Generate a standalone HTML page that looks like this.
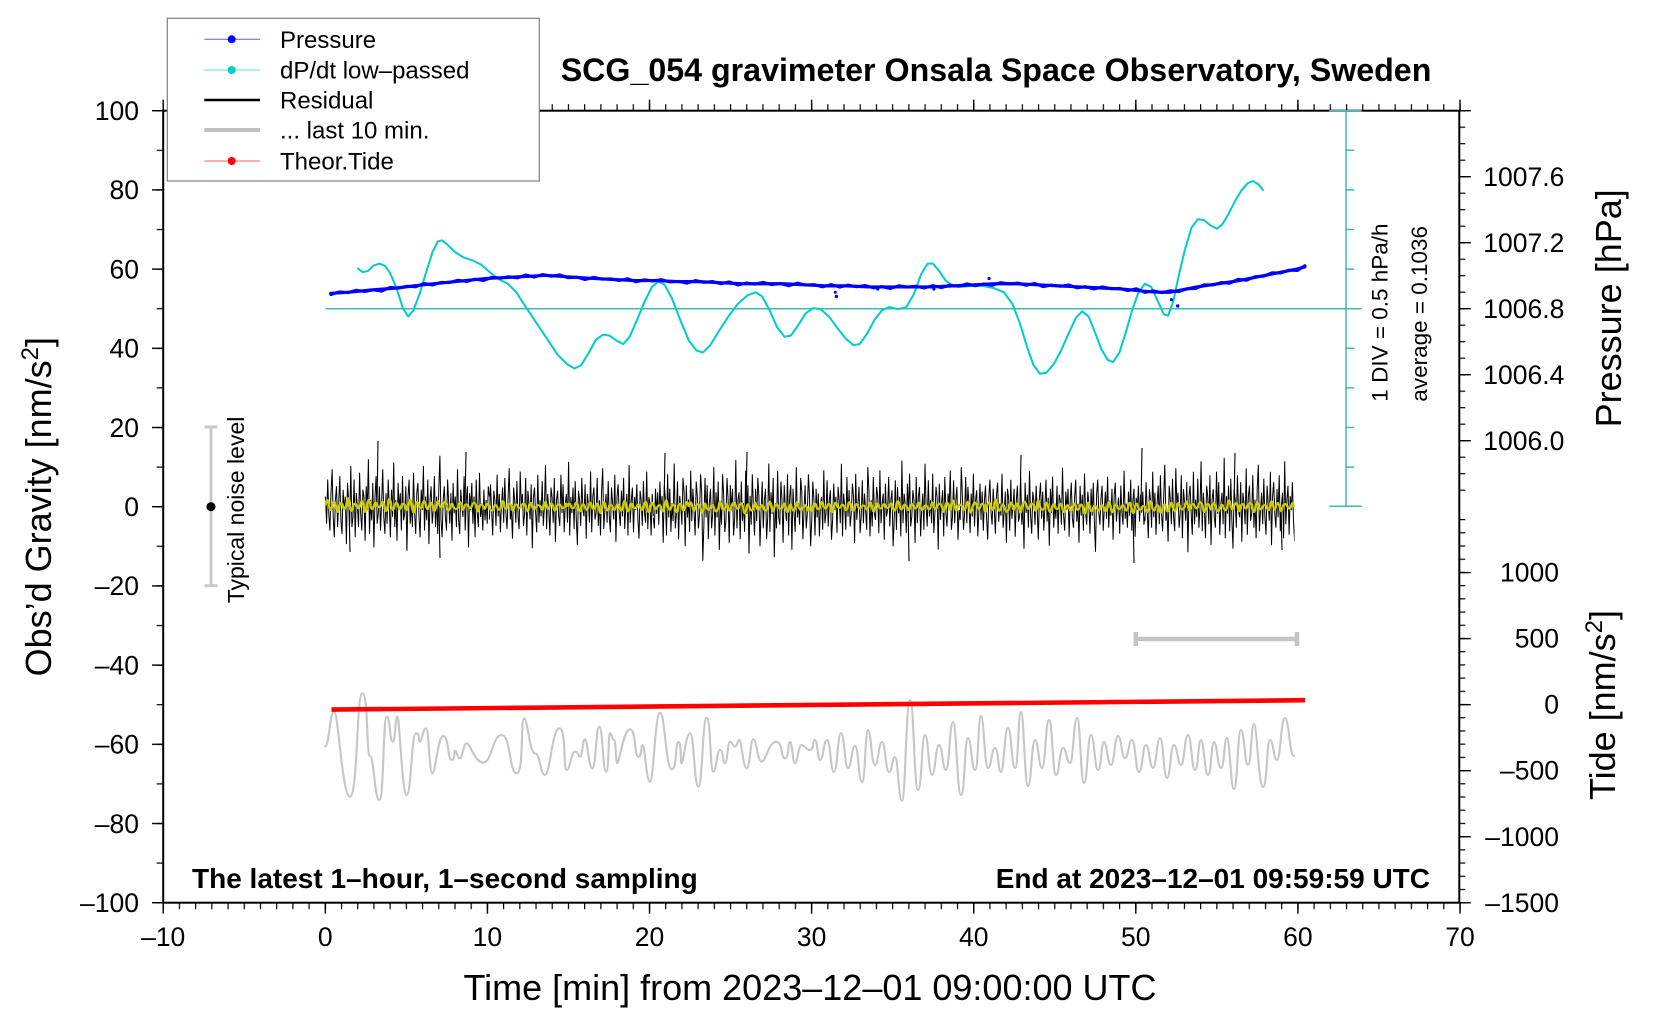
<!DOCTYPE html>
<html><head><meta charset="utf-8"><title>SCG_054 gravimeter</title>
<style>
html,body{margin:0;padding:0;background:#fff}
svg{display:block}
text{font-family:"Liberation Sans",Arial,Helvetica,sans-serif;fill:#000}
</style></head>
<body>
<svg xmlns="http://www.w3.org/2000/svg" xmlns:xlink="http://www.w3.org/1999/xlink" width="1660" height="1020" viewBox="0 0 1660 1020">
<defs>
<pattern id="vmin" patternUnits="userSpaceOnUse" x="162.6" y="0" width="16.21" height="40"><rect x="0" y="0" width="1.2" height="40" fill="#000"/></pattern>
<pattern id="vmaj" patternUnits="userSpaceOnUse" x="162.5" y="0" width="162.1" height="40"><rect x="0" y="0" width="1.4" height="40" fill="#000"/></pattern>
<pattern id="hlmin" patternUnits="userSpaceOnUse" x="0" y="110.1" width="40" height="39.6"><rect x="0" y="0" width="40" height="1.2" fill="#000"/></pattern>
<pattern id="hlmaj" patternUnits="userSpaceOnUse" x="0" y="110.0" width="40" height="79.2"><rect x="0" y="0" width="40" height="1.4" fill="#000"/></pattern>
<pattern id="hpmin" patternUnits="userSpaceOnUse" x="0" y="110.1" width="40" height="16.5"><rect x="0" y="0" width="40" height="1.2" fill="#000"/></pattern>
<pattern id="hpmaj" patternUnits="userSpaceOnUse" x="0" y="110.0" width="40" height="66"><rect x="0" y="0" width="40" height="1.4" fill="#000"/></pattern>
<pattern id="htmin" patternUnits="userSpaceOnUse" x="0" y="518.99" width="40" height="13.21"><rect x="0" y="0" width="40" height="1.2" fill="#000"/></pattern>
<pattern id="htmaj" patternUnits="userSpaceOnUse" x="0" y="571.85" width="40" height="66.05"><rect x="0" y="0" width="40" height="1.4" fill="#000"/></pattern>
<clipPath id="rclip"><rect x="320" y="380" width="974.5" height="260"/></clipPath>
<path id="ra" fill="none" stroke="#000" stroke-width="1" vector-effect="non-scaling-stroke" d="M0,3 1,-5 2,8 3,-2 4,-7 5,4 6,11 7,-3 8,-9 9,2 10,6 11,-6 12,1 13,9 14,-4 15,-8 16,5 17,-1 18,3 19,-11 20,7 21,2 22,-5 23,12 24,-6 25,-3 26,8 27,-9 28,4 29,0 30,-6 31,10 32,-2 33,-7 34,5 35,3 36,-10 37,6 38,-1 39,14 40,-8 41,2 42,-4 43,7 44,-12 45,3 46,9 47,-5 48,-2 49,6 50,-7 51,1 52,11 53,-3 54,-8 55,4 56,-5 57,8 58,0 59,-9 60,5 61,-3 62,13 63,-6 64,2 65,-10 66,7 67,-1 68,4 69,-7 70,9 71,-4 72,-2 73,6 74,-13 75,3 76,8 77,-5 78,1 79,-6 80,10 81,-2 82,-8 83,4 84,7 85,-3 86,-9 87,5 88,-1 89,12 90,-7 91,3 92,-4 93,8 94,-11 95,2 96,6 97,-5 98,-1 99,9 100,-6 101,3 102,-8 103,5 104,15 105,-4 106,-9 107,2 108,6 109,-3 110,-7 111,8 112,1 113,-5 114,4 115,-10 116,7 117,-2 118,3 119,-6 120,11 121,-4 122,-8 123,5 124,0 125,-3 126,9 127,-7 128,2 129,6 130,-12 131,4 132,-1 133,7 134,-5 135,3 136,-9 137,8 138,-2 139,-6 140,10 141,-3 142,1 143,-7 144,5 145,-4 146,2 147,-5 148,6 149,3"/>
<path id="rb" fill="none" stroke="#000" stroke-width="1" vector-effect="non-scaling-stroke" d="M0,-4 1,7 2,-1 3,-9 4,5 5,2 6,-6 7,10 8,-3 9,4 10,-8 11,1 12,6 13,-5 14,9 15,-2 16,-7 17,3 18,12 19,-4 20,-1 21,-10 22,6 23,2 24,-5 25,8 26,-3 27,-7 28,11 29,0 30,4 31,-6 32,-2 33,9 34,-9 35,5 36,1 37,-4 38,7 39,-13 40,3 41,6 42,-2 43,-8 44,10 45,-5 46,2 47,-3 48,8 49,-6 50,0 51,13 52,-7 53,4 54,-1 55,-9 56,6 57,3 58,-5 59,9 60,-11 61,2 62,5 63,-3 64,-6 65,10 66,-2 67,7 68,-8 69,1 70,4 71,-5 72,14 73,-9 74,3 75,-2 76,6 77,-7 78,8 79,-4 80,-12 81,5 82,2 83,-6 84,9 85,-1 86,-3 87,7 88,-10 89,4 90,1 91,-5 92,11 93,-8 94,3 95,6 96,-4 97,-2 98,9 99,-6 100,2 101,-9 102,5 103,12 104,-7 105,-1 106,4 107,-5 108,8 109,-3 110,-8 111,6 112,1 113,-4 114,10 115,-11 116,3 117,7 118,-2 119,-6 120,5 121,-3 122,9 123,-7 124,0 125,4 126,-9 127,13 128,-5 129,2 130,6 131,-8 132,3 133,-1 134,7 135,-4 136,-10 137,5 138,2 139,-6 140,8 141,-2 142,-5 143,11 144,-7 145,3 146,1 147,-9 148,4 149,-3"/>
<path id="ya" fill="none" stroke="#cccc00" stroke-width="2.4" stroke-linejoin="round" d="M0,0 q1.7,-12 3.4,0 q1.7,10 3.4,0 q1.7,-8 3.4,0 q1.7,14 3.4,0 q1.7,-6 3.4,0 q1.7,8 3.4,0 q1.7,-16 3.4,0 q1.7,12 3.4,0 q1.7,-4 3.4,0 q1.7,6 3.4,0 q1.7,-10 3.4,0 q1.7,14 3.4,0 q1.7,-12 3.4,0 q1.7,8 3.4,0 q1.7,-6 3.4,0 q1.7,4 3.4,0 q1.7,-8 3.4,0 q1.7,12 3.4,0 q1.7,-14 3.4,0 q1.7,10 3.4,0 q1.7,-6 3.4,0 q1.7,8 3.4,0 q1.7,-4 3.4,0 q1.7,10 3.4,0 q1.7,-12 3.4,0 q1.7,16 3.4,0 q1.7,-8 3.4,0 q1.7,6 3.4,0 q1.7,-10 3.4,0 q1.7,8 3.4,0 q1.7,-6 3.4,0 q1.7,12 3.4,0 q1.7,-10 3.4,0 q1.7,4 3.4,0 q1.7,-8 3.4,0"/>
<path id="yb" fill="none" stroke="#cccc00" stroke-width="2.4" stroke-linejoin="round" d="M0,0 q2,-10 4,0 q1.5,8 3,0 q2.5,-6 5,0 q1.75,12 3.5,0 q1.25,-8 2.5,0 q2.25,6 4.5,0 q1.5,-4 3,0 q2.5,10 5,0 q1.5,-12 3,0 q2,6 4,0 q1.25,-6 2.5,0 q1.75,8 3.5,0 q2.5,-10 5,0 q1.5,4 3,0 q2,-8 4,0 q1.75,14 3.5,0 q1.5,-6 3,0 q2.25,8 4.5,0 q1.25,-10 2.5,0 q2,6 4,0 q1.5,-4 3,0 q2.5,8 5,0 q1.75,-12 3.5,0 q1.5,10 3,0 q2,-6 4,0 q2.25,4 4.5,0 q1.5,-8 3,0 q1.75,12 3.5,0 q1.25,-6 2.5,0 q2,8 4,0 q1.5,-10 3,0 q2.5,6 5,0 q1.75,-4 3.5,0 q1.5,8 3,0"/>
</defs>
<rect width="1660" height="1020" fill="#fff"/>

<!-- ticks -->
<rect x="162" y="902.7" width="1299" height="6.5" fill="url(#vmin)"/>
<rect x="162" y="902.7" width="1299" height="11" fill="url(#vmaj)"/>
<rect x="162" y="104.2" width="1299" height="6.5" fill="url(#vmin)"/>
<rect x="162" y="99.7" width="1299" height="11" fill="url(#vmaj)"/>
<rect x="156.7" y="109.5" width="6.5" height="795" fill="url(#hlmin)"/>
<rect x="152" y="109.5" width="11.2" height="795" fill="url(#hlmaj)"/>
<rect x="1459.3" y="109.5" width="6" height="382" fill="url(#hpmin)"/>
<rect x="1459.3" y="109.5" width="11.5" height="333" fill="url(#hpmaj)"/>
<rect x="1459.3" y="518.8" width="6" height="385" fill="url(#htmin)"/>
<rect x="1459.3" y="571.7" width="11.5" height="332" fill="url(#htmaj)"/>

<!-- axes box -->
<rect x="163.2" y="110.7" width="1296.1" height="792" fill="none" stroke="#000" stroke-width="2"/>

<!-- cyan scale bar -->
<g stroke="#3fb8b8" stroke-width="1.5" fill="none">
<line x1="1346" y1="110.7" x2="1346" y2="506.3"/>
<line x1="1329.3" y1="110.7" x2="1361.7" y2="110.7"/>
<line x1="1329.3" y1="506.3" x2="1361.7" y2="506.3"/>
<line x1="325.5" y1="308.7" x2="1361.7" y2="308.7"/>
<path d="M1346 150.3H1354.3M1346 189.9H1354.3M1346 229.5H1354.3M1346 269.1H1354.3M1346 348.3H1354.3M1346 387.9H1354.3M1346 427.5H1354.3M1346 467.1H1354.3"/>
</g>
<text transform="translate(1387.5,401.7) rotate(-90)" font-size="22.5">1 DIV = 0.5 hPa/h</text>
<text transform="translate(1427,401.7) rotate(-90)" font-size="22.5">average = 0.1036</text>

<!-- typical noise level -->
<g stroke="#c8c8c8" stroke-width="3" fill="none">
<line x1="211" y1="427" x2="211" y2="585.7"/>
<line x1="204.5" y1="427" x2="217.5" y2="427"/>
<line x1="204.5" y1="585.7" x2="217.5" y2="585.7"/>
</g>
<circle cx="211" cy="506.7" r="4.5" fill="#000"/>
<text transform="translate(244,603.3) rotate(-90)" font-size="23">Typical noise level</text>

<!-- grey scale bar (last 10 min) -->
<g stroke="#c4c4c4" stroke-width="4.5" fill="none">
<line x1="1135.8" y1="639" x2="1297" y2="639"/>
<line x1="1135.8" y1="632" x2="1135.8" y2="646"/>
<line x1="1297" y1="632" x2="1297" y2="646"/>
</g>

<!-- residual -->
<g clip-path="url(#rclip)">
<use xlink:href="#ra" href="#ra" transform="translate(325.5,506.7) scale(1.1,-3.4)"/>
<use xlink:href="#rb" href="#rb" transform="translate(489.4,506.7) scale(1.1,-3.2)"/>
<use xlink:href="#ra" href="#ra" transform="translate(817.2,506.7) scale(-1.1,3.6)"/>
<use xlink:href="#rb" href="#rb" transform="translate(981.1,506.7) scale(-1.1,-3.3)"/>
<use xlink:href="#ra" href="#ra" transform="translate(981.1,506.7) scale(1.1,3.0)"/>
<use xlink:href="#rb" href="#rb" transform="translate(1145.0,506.7) scale(1.1,-3.5)"/>
</g>
<path fill="none" stroke="#000" stroke-width="1.1" d="M349,506 L350,552 M377,506 L378,441 M439,506 L440,558 M465,506 L466,452 M664,506 L665,453 M746,506 L747,452 M908,506 L909,561 M1133,506 L1134,563 M1141,506 L1142,448 M1234,506 L1235,453 M1281,506 L1282,550 M1020,506 L1021,455"/>
<!-- yellow -->
<use xlink:href="#ya" href="#ya" transform="translate(325.5,505.5) scale(1.0173,0.9)"/>
<use xlink:href="#yb" href="#yb" transform="translate(446.56,506.7) scale(0.98,-0.8)"/>
<use xlink:href="#ya" href="#ya" transform="translate(688.68,506.7) scale(-1.0173,0.8)"/>
<use xlink:href="#yb" href="#yb" transform="translate(688.68,507) scale(0.98,0.9)"/>
<use xlink:href="#ya" href="#ya" transform="translate(809.74,506.7) scale(1.0173,-0.7)"/>
<use xlink:href="#yb" href="#yb" transform="translate(1051.86,506.7) scale(-0.98,-1)"/>
<use xlink:href="#ya" href="#ya" transform="translate(1172.92,507.5) scale(-1.0173,0.8)"/>
<use xlink:href="#yb" href="#yb" transform="translate(1172.92,506.7) scale(0.98,-0.9)"/>

<!-- grey last 10 min -->
<g transform="translate(320,420) scale(0.33333)">
<path fill="none" stroke="#c6c6c6" stroke-width="6.3" stroke-linejoin="round" stroke-linecap="round" d="M15,980 C28.5,980 28.5,875 42,875 S66,1130 90,1130 S108.5,820 127,820 S138.5,1008 150,1008 S164,1140 178,1140 S189,890 200,890 S209,965 218,965 S225,890 232,890 S246,1125 260,1125 S274,940 288,940 S294,965 300,965 S309,925 318,925 S327.5,1060 337,1060 S353.5,948 370,948 S382.5,1020 395,1020 S400,992 405,992 S412.5,1015 420,1015 S430,970 440,970 S465,1028 490,1028 S517.5,945 545,945 S567.5,1060 590,1060 S601,895 612,895 S628.5,1000 645,1000 S660,1065 675,1065 S696.5,925 718,925 S729,1050 740,1050 S752.5,995 765,995 S772.5,1010 780,1010 S787.5,958 795,958 S806,1045 817,1045 S827.5,920 838,920 S848,1055 858,1055 S864,940 870,940 S876,960 882,960 S887,1030 892,1030 S911,928 930,928 S942.5,1010 955,1010 S961.5,975 968,975 S979,1085 990,1085 S1005,878 1020,878 S1037.5,1048 1055,1048 S1065,966 1075,966 S1080,1030 1085,1030 S1097.5,940 1110,940 S1122.5,1100 1135,1100 S1147.5,893 1160,893 S1170,1055 1180,1055 S1190,990 1200,990 S1207.5,1030 1215,1030 S1222.5,965 1230,965 S1237.5,980 1245,980 S1251.5,960 1258,960 S1269,1045 1280,1045 S1290,958 1300,958 S1312.5,1025 1325,1025 S1346.5,965 1368,965 S1381.5,1015 1395,1015 S1402.5,966 1410,966 S1417.5,1030 1425,1030 S1435,975 1445,975 S1457.5,990 1470,990 S1477.5,960 1485,960 S1492.5,1020 1500,1020"/>
</g>
<path fill="none" stroke="#c6c6c6" stroke-width="2.1" stroke-linejoin="round" stroke-linecap="round" d="M820,760 C823.5,760 823.5,740 827,740 S830.5,772 834,772 S837.5,733 841,733 S844.5,768 848,768 S851.5,746 855,746 S858.5,782 862,782 S865,730 868,730 S871.5,765 875,765 S878.5,742 882,742 S885.5,772 889,772 S892,757 895,757 S898.5,801 902,801 S906,700 910,700 S914,790 918,790 S921.5,735 925,735 S928.5,775 932,775 S935.5,745 939,745 S942.5,770 946,770 S949.5,722 953,722 S957,795 961,795 S964.5,738 968,738 S971.5,770 975,770 S978,716 981,716 S984.5,768 988,768 S991.5,748 995,748 S998,772 1001,772 S1004.5,728 1008,728 S1011.5,768 1015,768 S1018,712 1021,712 S1024.5,786 1028,786 S1031.5,740 1035,740 S1038.5,768 1042,768 S1045.5,720 1049,720 S1052.5,775 1056,775 S1059.5,748 1063,748 S1066.5,763 1070,763 S1073.5,718 1077,718 S1080.5,783 1084,783 S1087.5,735 1091,735 S1094.5,770 1098,770 S1101,742 1104,742 S1107.5,765 1111,765 S1114.5,736 1118,736 S1121.5,758 1125,758 S1128.5,740 1132,740 S1135.5,772 1139,772 S1142.5,745 1146,745 S1149.5,768 1153,768 S1156.5,738 1160,738 S1163.5,778 1167,778 S1170.5,745 1174,745 S1177.5,765 1181,765 S1184.5,735 1188,735 S1191.5,770 1195,770 S1198,740 1201,740 S1204.5,775 1208,775 S1211,742 1214,742 S1217.5,768 1221,768 S1224,738 1227,738 S1230.5,789 1234,789 S1237.5,730 1241,730 S1244.5,765 1248,765 S1251,724 1254,724 S1258.5,787 1263,787 S1266.5,740 1270,740 S1273.5,760 1277,760 S1281,718 1285,718 S1289.5,756 1294,756"/>

<!-- theoretical tide -->
<line x1="331.5" y1="709.6" x2="1305" y2="700.2" stroke="#ff0000" stroke-width="4.6"/>

<!-- data in display coords -->
<g transform="matrix(1.06,0,0,1.0588,-1,0)">
<path fill="none" stroke="#00cccc" stroke-width="1.9" stroke-linejoin="round" d="M338,253 L343,257 L348,256 L353,251 L359,249 L364,251 L369,258 L375,272 L381,291 L386,299 L391,293 L397,277 L403,257 L409,238 L414,228 L418,227 L423,231 L430,238 L438,243 L447,246 L455,250 L463,257 L472,264 L480,268 L488,276 L497,290 L507,305 L517,320 L527,335 L536,344 L543,348 L549,345 L556,334 L563,321 L570,316 L576,317 L583,322 L589,325 L595,318 L602,302 L609,285 L616,271 L622,266 L628,269 L635,282 L643,303 L651,322 L658,331 L664,333 L671,326 L679,313 L688,299 L697,287 L706,279 L714,276 L720,280 L727,293 L734,309 L741,318 L747,317 L754,307 L761,296 L768,291 L775,292 L783,299 L791,310 L799,320 L806,326 L812,325 L819,315 L826,302 L833,293 L840,290 L848,292 L856,290 L863,278 L870,259 L876,249 L881,249 L887,256 L893,265 L900,270 L908,271 L918,270 L928,270 L938,272 L948,276 L956,287 L963,305 L970,328 L976,345 L982,353 L988,352 L995,344 L1002,331 L1009,315 L1016,300 L1022,294 L1028,299 L1034,314 L1040,330 L1046,340 L1051,342 L1057,333 L1063,314 L1069,293 L1075,276 L1081,268 L1087,271 L1093,284 L1099,297 L1103,298 L1108,284 L1113,260 L1119,235 L1125,215 L1131,207 L1137,208 L1143,213 L1149,216 L1154,212 L1160,202 L1166,190 L1172,180 L1178,173 L1183,171 L1188,174 L1193,180"/>
<path fill="none" stroke="#0000ff" stroke-width="3" stroke-linejoin="round" stroke-linecap="round" d="M313,277 L330,276 L350,274 L375,272 L400,269 L420,267 L440,265 L460,263 L480,262 L500,261 L515,260 L530,261 L545,262 L560,263 L580,264 L600,265 L620,265 L640,266 L660,266 L680,267 L700,268 L720,268 L740,268 L760,269 L780,270 L800,270 L820,271 L840,271 L860,271 L880,271 L900,270 L920,269 L940,268 L960,268 L980,269 L1000,270 L1020,271 L1040,272 L1060,273 L1080,275 L1095,276 L1105,276 L1115,274 L1130,271 L1150,268 L1170,265 L1190,261 L1210,257 L1225,254 L1232,252"/>
<path fill="none" stroke="#0000ff" stroke-width="2.8" stroke-linejoin="round" stroke-linecap="round" d="M313,278.2 L321,275.7 329,276.4 337,274.1 345,275.4 353,273.7 361,275 369,271.4 377,272.2 385,270.3 393,271 401,267.7 409,269.2 417,266.7 425,266.9 433,264.6 441,265.9 449,263.7 457,265 465,261.9 473,262.7 481,261.3 489,262.5 497,259.7 505,261.7 513,259.2 521,260.9 529,259.6 537,262.4 545,261.7 553,264 561,261.9 569,263.7 577,263.3 585,265 593,263.2 601,266.2 609,264.2 617,265.4 625,264.1 633,266.4 641,265.7 649,267.5 657,264.9 665,266.7 673,265.8 681,268 689,266.2 697,269.2 705,267.2 713,268.4 721,266.6 729,268.9 737,267.7 745,270 753,267.4 761,269.2 769,268.8 777,271 785,268.7 793,271.2 801,269.2 809,270.9 817,269.6 825,271.9 833,270.7 841,272.5 849,269.9 857,271.2 865,270.3 873,272 881,269.7 889,271.7 897,269.2 905,270.4 913,268.1 921,269.9 929,268.2 937,269.5 945,266.9 953,268.2 961,267.3 969,269.5 977,267.7 985,270.7 993,269.2 1001,270.4 1009,269.1 1017,271.9 1025,270.7 1033,273 1041,270.9 1049,272.7 1057,272.3 1065,274.5 1073,272.7 1081,276.2 1089,274.7 1097,276.4 1105,274.6 1113,275.4 1121,272.7 1129,272.5 1137,268.9 1145,269.2 1153,266.8 1161,267.5 1169,263.7 1177,264.7 1185,261.2 1193,260.9 1201,257.6 1209,257.9 1217,255.2 1225,255.5 1232,250.9"/>
<g fill="#0000ff">
<circle cx="790" cy="280" r="1.6"/><circle cx="789" cy="276" r="1.4"/><circle cx="829" cy="273" r="1.5"/><circle cx="882" cy="273" r="1.5"/><circle cx="934" cy="263" r="1.5"/><circle cx="1112" cy="289" r="1.6"/><circle cx="1106" cy="283" r="1.4"/>
</g>
</g>

<!-- legend -->
<rect x="167.3" y="18.3" width="372" height="162.7" fill="#fff" stroke="#7f7f7f" stroke-width="1.2"/>
<line x1="204.3" y1="39.3" x2="260" y2="39.3" stroke="#5a5aff" stroke-width="1"/>
<circle cx="231.7" cy="39.3" r="4" fill="#0000ff"/>
<line x1="204.3" y1="70" x2="260" y2="70" stroke="#55dddd" stroke-width="1"/>
<circle cx="231.7" cy="70" r="4" fill="#00cccc"/>
<line x1="204.3" y1="100" x2="260" y2="100" stroke="#000" stroke-width="2.5"/>
<line x1="204.3" y1="130" x2="260" y2="130" stroke="#c0c0c0" stroke-width="4"/>
<line x1="204.3" y1="161" x2="260" y2="161" stroke="#ff6060" stroke-width="1"/>
<circle cx="231.7" cy="161" r="4" fill="#ff0000"/>
<g font-size="24">
<text x="280" y="47.8">Pressure</text>
<text x="280" y="78.5">dP/dt low–passed</text>
<text x="280" y="108.5">Residual</text>
<text x="280" y="138.5">... last 10 min.</text>
<text x="280" y="169.5">Theor.Tide</text>
</g>

<!-- title -->
<text x="560.7" y="81" font-size="32.2" font-weight="bold">SCG_054 gravimeter Onsala Space Observatory, Sweden</text>

<!-- left tick labels -->
<g font-size="26.5" text-anchor="end">
<text x="139" y="120">100</text>
<text x="139" y="199.2">80</text>
<text x="139" y="278.4">60</text>
<text x="139" y="357.6">40</text>
<text x="139" y="436.8">20</text>
<text x="139" y="516">0</text>
<text x="139" y="595.2">–20</text>
<text x="139" y="674.4">–40</text>
<text x="139" y="753.6">–60</text>
<text x="139" y="832.8">–80</text>
<text x="139" y="912">–100</text>
</g>
<!-- bottom tick labels -->
<g font-size="26.5" text-anchor="middle">
<text x="163.2" y="946">–10</text>
<text x="325.3" y="946">0</text>
<text x="487.4" y="946">10</text>
<text x="649.5" y="946">20</text>
<text x="811.6" y="946">30</text>
<text x="973.7" y="946">40</text>
<text x="1135.8" y="946">50</text>
<text x="1297.9" y="946">60</text>
<text x="1460" y="946">70</text>
</g>
<!-- right pressure labels -->
<g font-size="26.5">
<text x="1483.3" y="186">1007.6</text>
<text x="1483.3" y="252">1007.2</text>
<text x="1483.3" y="318">1006.8</text>
<text x="1483.3" y="384">1006.4</text>
<text x="1483.3" y="450">1006.0</text>
</g>
<!-- right tide labels -->
<g font-size="26.5" text-anchor="end">
<text x="1559" y="581.6">1000</text>
<text x="1559" y="647.6">500</text>
<text x="1559" y="713.6">0</text>
<text x="1559" y="779.7">–500</text>
<text x="1559" y="845.8">–1000</text>
<text x="1559" y="911.9">–1500</text>
</g>

<!-- axis labels -->
<text transform="translate(51,506.7) rotate(-90)" font-size="36" text-anchor="middle">Obs’d Gravity [nm/s<tspan dy="-13" font-size="24">2</tspan><tspan dy="13">]</tspan></text>
<text transform="translate(1621,308.3) rotate(-90)" font-size="36" text-anchor="middle">Pressure [hPa]</text>
<text transform="translate(1615,705) rotate(-90)" font-size="36" text-anchor="middle">Tide [nm/s<tspan dy="-13" font-size="24">2</tspan><tspan dy="13">]</tspan></text>
<text x="810" y="1000" font-size="36" text-anchor="middle">Time [min] from 2023–12–01 09:00:00 UTC</text>

<!-- bottom annotations -->
<text x="192" y="888" font-size="28" font-weight="bold">The latest 1–hour, 1–second sampling</text>
<text x="1430" y="888" font-size="28" font-weight="bold" text-anchor="end">End at 2023–12–01 09:59:59 UTC</text>
</svg>
</body></html>
